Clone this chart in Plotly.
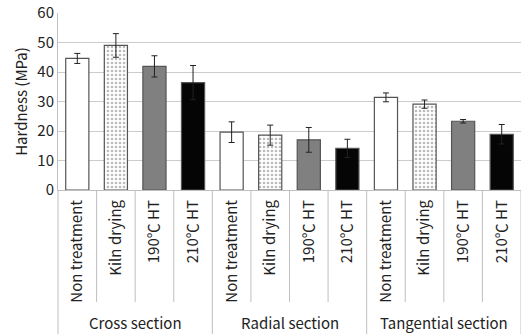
import plotly.graph_objects as go

groups = ["Cross section", "Radial section", "Tangential section"]
treatments = ["Non treatment", "Kiln drying", "190\u2103 HT", "210\u2103 HT"]
hardness = {
    "Cross section":      [44.6, 49.0, 41.9, 36.4],
    "Radial section":     [19.6, 18.6, 17.0, 14.1],
    "Tangential section": [31.4, 29.1, 23.3, 18.9],
}
errors = {
    "Cross section":      [1.7, 4.0, 3.6, 5.8],
    "Radial section":     [3.5, 3.4, 4.2, 3.1],
    "Tangential section": [1.5, 1.4, 0.6, 3.3],
}
y_ticks = [0, 10, 20, 30, 40, 50, 60]

fills = ["#ffffff", "#ffffff", "#808080", "#050505"]
patterns = ["", ".", "", ""]

fig = go.Figure()
n_t = len(treatments)
for ti, t in enumerate(treatments):
    xs = [gi * n_t + ti for gi in range(len(groups))]
    ys = [hardness[g][ti] for g in groups]
    es = [errors[g][ti] for g in groups]
    fig.add_trace(go.Bar(
        x=xs, y=ys, width=0.6,
        marker=dict(color=fills[ti], line=dict(color="#555555", width=1.2),
                    pattern=dict(shape=patterns[ti], fgcolor="#777777", bgcolor="#ffffff",
                                 size=4, solidity=0.35)),
        error_y=dict(type="data", array=es, visible=True, color="#222222",
                     thickness=1, width=3),
        showlegend=False,
    ))

n = len(groups) * n_t
tickvals = list(range(n))
ticktext = [t for g in groups for t in treatments]

font = "Noto Sans CJK KR, Open Sans, sans-serif"
fig.update_layout(
    width=521, height=334,
    margin=dict(l=58, r=0, t=13, b=144),
    paper_bgcolor="white", plot_bgcolor="white",
    font=dict(family=font, size=13, color="#222222"),
    bargap=0.4,
)
fig.update_xaxes(range=[-0.5, n - 0.5], tickvals=tickvals, ticktext=ticktext,
                 tickangle=-90, showgrid=False, showline=True, linecolor="#bfbfbf",
                 linewidth=1, ticks="", tickfont=dict(size=15), automargin=False,
                 ticklabelstandoff=3)
fig.update_yaxes(range=[0, 60], tickvals=y_ticks, showgrid=True, gridcolor="#cccccc",
                 gridwidth=1, showline=True, linecolor="#bfbfbf", zeroline=False,
                 ticks="", tickfont=dict(size=15), automargin=False,
                 title=dict(text="Hardness (MPa)", font=dict(size=15), standoff=6))

shapes = []
for k in range(n + 1):
    xp = k / n
    if k % n_t == 0:
        y0 = -144 / 177
    else:
        y0 = -112 / 177
    shapes.append(dict(type="line", xref="paper", yref="paper", x0=xp, x1=xp,
                       y0=0, y1=y0, line=dict(color="#bfbfbf", width=1)))
fig.update_layout(shapes=shapes)

for gi, g in enumerate(groups):
    fig.add_annotation(x=gi * n_t + (n_t - 1) / 2, xref="x", y=-132 / 177, yref="paper",
                       text=g, showarrow=False, font=dict(size=15), yanchor="middle")

fig.write_html("out.html", config={"displayModeBar": False},
               post_script="document.body.style.margin='0';")
